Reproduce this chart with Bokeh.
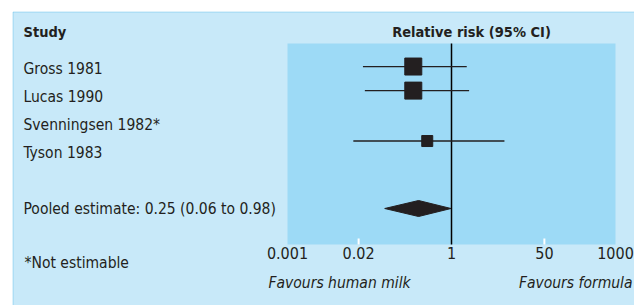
from bokeh.plotting import figure
from bokeh.models import Range1d, Label, FixedTicker, CustomJSTickFormatter, BoxAnnotation
from bokeh.embed import file_html
from bokeh.resources import INLINE

# ---- data ----
studies = ["Gross 1981", "Lucas 1990", "Svenningsen 1982*", "Tyson 1983"]
study_row = [1, 2, 3, 4]

est_rr = [0.20, 0.20, 0.36]
est_low = [0.024, 0.026, 0.016]
est_high = [1.9, 2.1, 9.3]
est_row = [0.93, 1.79, 3.59]
est_size = [17, 17, 11]

pooled_rr = 0.25
pooled_low = 0.06
pooled_high = 0.98
pooled_row = 6

x_min, x_max = 0.001, 1000
tick_values = [0.001, 0.02, 1, 50, 1000]
tick_marks = [0.02, 50]

# ---- style ----
FONT = "DejaVu Sans Condensed"
TXT = "#231f20"
OUTER = "#c8e9f9"
INNER = "#9ddaf6"
EDGE = "#1fa3df"
FS = "15.5px"
FS_BOLD = "14.5px"
FS_TICK = "16px"

W, H = 634, 305


# pixel helpers (layout only: used to place the panel and texts)
def X(px):
    return 10 ** ((px - 451) / 54.667)


def R(py):
    return (py - 40) / 28.0


TOP, BOT = R(43), R(244)  # inner plotting area in row units

p = figure(width=W, height=H, x_axis_type="log",
           x_range=Range1d(X(0), X(W)), y_range=Range1d(R(H), R(0)),
           output_backend="svg", toolbar_location=None,
           y_axis_location=None, min_border=0)
p.background_fill_color = "white"
p.border_fill_color = "white"
p.outline_line_color = None
p.grid.visible = False

# outer panel and inner plotting area
p.add_layout(BoxAnnotation(left=X(12.5), right=X(700), top=R(11.5), bottom=R(400),
                           fill_color=OUTER, fill_alpha=1, line_color=EDGE,
                           line_width=1, level="underlay"))
p.add_layout(BoxAnnotation(left=x_min, right=x_max, top=TOP, bottom=BOT,
                           fill_color=INNER, fill_alpha=1, line_color=None,
                           level="underlay"))

ax = p.xaxis[0]
ax.fixed_location = BOT
ax.ticker = FixedTicker(ticks=tick_values)
ax.formatter = CustomJSTickFormatter(code="return String(tick)")
ax.axis_line_color = None
ax.major_tick_line_color = None
ax.minor_tick_line_color = None
ax.major_tick_in = 0
ax.major_tick_out = 0
ax.major_label_standoff = 2
ax.major_label_text_font = FONT
ax.major_label_text_font_size = FS_TICK
ax.major_label_text_color = TXT

# tick marks inside the bottom of the plotting area
p.segment(x0=tick_marks, x1=tick_marks, y0=[BOT] * 2, y1=[BOT - 6 / 28.0] * 2,
          line_color="white", line_width=2)

# line of no effect
p.segment(x0=[1], x1=[1], y0=[TOP], y1=[BOT], line_color="black", line_width=1.5)

# confidence intervals and squares
p.segment(x0=est_low, x1=est_high, y0=est_row, y1=est_row,
          line_color=TXT, line_width=1.3)
p.scatter(x=est_rr, y=est_row, size=est_size, marker="square",
          fill_color=TXT, line_color=TXT)

# pooled diamond
h = 8 / 28.0
p.patch(x=[pooled_low, pooled_rr, pooled_high, pooled_rr],
        y=[pooled_row, pooled_row - h, pooled_row, pooled_row + h],
        fill_color=TXT, line_color=TXT)


def lab(text, x, y, align="left", bold=False, italic=False):
    style = "bold" if bold else ("italic" if italic else "normal")
    p.add_layout(Label(x=x, y=y, text=text, text_align=align,
                       text_baseline="middle", text_font=FONT,
                       text_font_size=FS_BOLD if bold else FS,
                       text_color=TXT, text_font_style=style))


lab("Study", X(23), R(31), bold=True)
lab("Relative risk (95% CI)", X(471), R(31), align="center", bold=True)
for name, r in zip(studies, study_row):
    lab(name, X(23), r)
lab("Pooled estimate: %.2f (%.2f to %.2f)" % (pooled_rr, pooled_low, pooled_high),
    X(23), pooled_row)
lab("*Not estimable", X(24), R(262))
lab("Favours human milk", X(268), R(282), italic=True)
lab("Favours formula", X(632), R(282), align="right", italic=True)

open("out.html", "w").write(file_html(p, INLINE))
